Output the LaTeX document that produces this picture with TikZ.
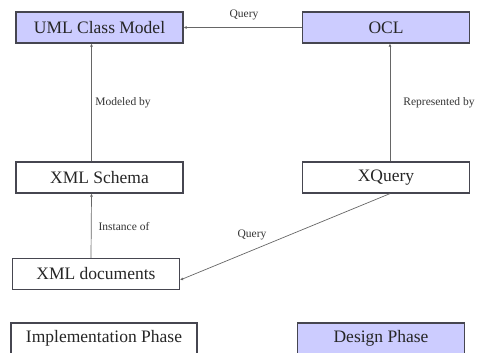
\documentclass[tikz,border=0pt]{standalone}
\usepackage{fontspec}
\setmainfont{Liberation Serif}
\usepackage[dvipsnames]{xcolor}
\usetikzlibrary{positioning,arrows.meta}
\definecolor{phase}{RGB}{204,204,255}
\definecolor{edgegray}{RGB}{70,70,80}

\begin{document}
\begin{tikzpicture}[x=1pt,y=-1pt]
  % 定义样式
  \tikzset{model/.style = {draw=edgegray, line width=1.2pt, minimum width=167pt, minimum height=31pt, inner sep=0pt, text=black!85, font=\fontsize{17.5}{19}\selectfont}}
  \tikzset{design/.style = {model, fill=phase}}
  \tikzset{link/.style = {draw=gray!80!black, line width=0.7pt, -{Latex[length=3pt,width=3pt]}}}
  \tikzset{tag/.style = {font=\fontsize{11.5}{13}\selectfont, text=black!80, inner sep=1pt}}

  \useasboundingbox (0,0) rectangle (479,353);

  % 定义点
  \node[design] (uml) at (99.5,27.5) {UML Class Model};
  \node[design] (ocl) at (386,27.5) {OCL};
  \node[model] (schema) at (99.5,177.5) {XML Schema};
  \node[model] (xquery) at (386,177.5) {XQuery};
  \node[model] (xmldoc) at (96,274) {XML documents};
  \node[model, minimum width=186pt] (impl) at (104,338.5) {Implementation Phase};
  \node[design] (phase) at (381,338.5) {Design Phase};

  % 定义边
  \draw[link] (ocl.west) -- (uml.east);
  \draw[link] ([xshift=-8pt]schema.north) -- ([xshift=-8pt]uml.south);
  \draw[link] ([xshift=4pt]xquery.north) -- ([xshift=4pt]ocl.south);
  \draw[link] ([xshift=-5pt]xmldoc.north) -- ([xshift=-8pt]schema.south);
  \draw[link] ([xshift=4pt]xquery.south) -- ([yshift=-6pt]xmldoc.east);

  \node[tag] (q1) at (244,15) {Query};
  \node[tag] (mod) at (123,103) {Modeled by};
  \node[tag] (rep) at (439,103) {Represented by};
  \node[tag] (inst) at (124,227) {Instance of};
  \node[tag] (q2) at (252,235) {Query};
\end{tikzpicture}
\end{document}
